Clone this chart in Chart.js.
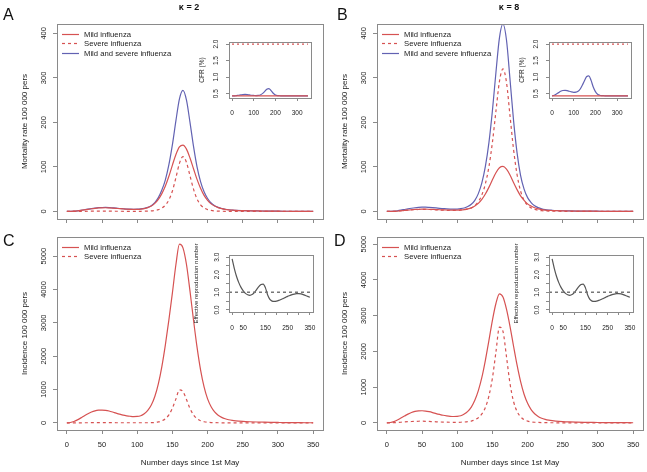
<!DOCTYPE html>
<html>
<head>
<meta charset="utf-8">
<script src="https://cdn.jsdelivr.net/npm/chart.js@4/dist/chart.umd.min.js"></script>
<style>
  body { margin: 0; background: #fff; }
  #page { position: relative; width: 647px; height: 472px; overflow: hidden; background: #fff; }
  #page canvas { position: absolute; }
  .letter { position: absolute; font: 16px "Liberation Sans", Arial, sans-serif; line-height: 16px; color: #111; }
  .kappa { position: absolute; width: 60px; text-align: center; font: bold 9px "Liberation Sans", Arial, sans-serif; line-height: 9px; color: #111; }
</style>
</head>
<body>
<div id="page">
  <canvas id="mainA" width="330" height="232" style="left:0px;top:0px"></canvas>
  <canvas id="mainB" width="327" height="232" style="left:320px;top:0px"></canvas>
  <canvas id="mainC" width="330" height="240" style="left:0px;top:232px"></canvas>
  <canvas id="mainD" width="327" height="240" style="left:320px;top:232px"></canvas>
  <canvas id="insetA" width="125" height="86" style="left:190px;top:36px"></canvas>
  <canvas id="insetB" width="125" height="86" style="left:510px;top:36px"></canvas>
  <canvas id="insetC" width="132" height="110" style="left:185px;top:236px"></canvas>
  <canvas id="insetD" width="132" height="110" style="left:505px;top:236px"></canvas>
  <div class="letter" style="left:3px;top:7px">A</div>
  <div class="letter" style="left:337px;top:7px">B</div>
  <div class="letter" style="left:3px;top:233px">C</div>
  <div class="letter" style="left:334px;top:233px">D</div>
  <div class="kappa" style="left:159px;top:3px">κ = 2</div>
  <div class="kappa" style="left:479px;top:3px">κ = 8</div>
</div>
<script>
const FONT = '"Liberation Sans", Arial, Helvetica, sans-serif'
Chart.defaults.font.family = FONT
Chart.defaults.color = '#222'

const RED = 'rgb(214,82,82)'
const BLUE = 'rgb(98,98,178)'
const GREY = '#555'

// days since 1st May, shared by all main panels
const days = [0,5,10,15,20,25,30,35,40,45,50,55,60,65,70,75,80,85,90,95,
  100,105,110,115,120,125,130,135,140,145,150,155,160,165,170,175,180,185,190,195,
  200,205,210,215,220,225,230,235,240,250,260,270,280,290,300,310,320,330,340,350]

// C: incidence, kappa = 2
const incMildK2 = [0,10,40,90,150,215,275,325,360,380, 385,375,355,325,290,260,232,212,198,190,
  192,215,275,375,535,790,1170,1690,2340,3090, 3900,4750,5360,5250,4750,3950,3080,2270,1590,1080,
  720,485,330,230,165,122,94,75,62, 45,34,26,20,15,12,9,7,5,4,3]
const incSevereK2 = [0,0,1,1,2,3,4,5,5,6, 6,6,5,5,4,4,3,3,3,3,
  3,3,4,4,6,12,28,60,125,240, 440,720,990,940,700,430,240,125,65,33,
  17,9,5,3,2,1,1,1,0, 0,0,0,0,0,0,0,0,0,0,0]

// D: incidence, kappa = 8
const incMildK8 = [0,9,35,80,135,190,245,290,320,335, 338,330,312,288,260,235,212,195,183,178,
  182,200,245,320,440,630,900,1270,1750,2300, 2870,3340,3610,3520,3180,2700,2150,1620,1160,800,
  545,370,255,180,130,98,76,61,50, 36,27,21,16,13,10,8,6,5,4,3]
const incSevereK8 = [0,1,4,10,17,25,32,38,42,45, 46,44,40,35,30,25,21,18,16,15,
  15,17,22,32,50,85,145,250,430,750, 1250,1980,2680,2560,1850,1100,600,320,170,90,
  50,28,17,11,7,5,4,3,2, 1,1,1,0,0,0,0,0,0,0,0]

// A: mortality, kappa = 2
const mortMildK2 = [0,0.1,0.5,1.3,2.3,3.5,4.8,6,7,7.8, 8.2,8.3,8,7.5,6.9,6.2,5.6,5.1,4.8,4.6,
  4.7,5.2,6.3,8.5,12,18,27,40,57,79, 104,128,145,149,140,120,96,72,52,36,
  25,17,12,8.5,6.2,4.6,3.6,2.9,2.4, 1.8,1.4,1.1,0.9,0.7,0.5,0.4,0.3,0.25,0.2,0.15]
const mortSevereK2 = [0,0,0.1,0.1,0.2,0.3,0.4,0.5,0.55,0.6, 0.6,0.6,0.55,0.5,0.45,0.4,0.35,0.3,0.3,0.3,
  0.3,0.35,0.45,0.7,1.2,2.2,4,7.5,14,26, 46,76,108,123,110,80,50,28,15,8,
  4,2.2,1.2,0.7,0.4,0.3,0.2,0.2,0.1, 0.1,0.1,0,0,0,0,0,0,0,0,0]
const mortAllK2 = [0,0.1,0.6,1.4,2.5,3.8,5.2,6.5,7.6,8.4, 8.8,8.9,8.6,8,7.4,6.6,6,5.4,5.1,4.9,
  5,5.6,6.8,9.2,13,20,31,48,71,105, 150,204,253,272,250,200,146,100,67,44,
  29,19,13,9.2,6.6,4.9,3.8,3.1,2.5, 1.9,1.5,1.1,0.9,0.7,0.5,0.4,0.3,0.25,0.2,0.15]

// B: mortality, kappa = 8
const mortMildK8 = [0,0.1,0.3,0.8,1.5,2.3,3.1,3.8,4.4,4.8, 5,5,4.8,4.5,4.2,3.8,3.5,3.2,3,2.9,
  3,3.4,4.2,5.7,8,12,18,27,39,54, 71,87,98,101,95,82,65,49,35,25,
  17,12,8.2,5.8,4.2,3.1,2.4,2,1.6, 1.2,0.95,0.75,0.6,0.48,0.38,0.3,0.22,0.17,0.13,0.1]
const mortSevereK8 = [0,0.1,0.3,0.8,1.4,2.1,2.8,3.4,3.9,4.3, 4.5,4.5,4.3,4,3.6,3.2,2.9,2.6,2.4,2.3,
  2.4,2.8,3.6,5.2,8,13,22,37,62,100, 155,225,292,320,290,215,140,83,46,25,
  14,8,4.5,2.7,1.7,1.1,0.8,0.6,0.5, 0.3,0.2,0.15,0.1,0.1,0.1,0.05,0.05,0,0,0]
const mortAllK8 = [0,0.2,0.6,1.6,2.9,4.4,5.9,7.2,8.3,9.1, 9.5,9.5,9.1,8.5,7.8,7,6.4,5.8,5.4,5.2,
  5.4,6.2,7.8,10.9,16,25,40,64,101,154, 226,312,390,421,385,297,205,132,81,50,
  31,20,12.7,8.5,5.9,4.2,3.2,2.6,2.1, 1.5,1.15,0.9,0.7,0.58,0.48,0.35,0.27,0.17,0.13,0.1]

// insets
const insetDays = [0,10,20,30,40,50,60,70,80,90,100,110,120,130,140,150,160,170,
  180,190,200,210,220,230,240,250,260,270,280,290,300,310,320,330,340,350]
const flatDays = [0, 350]
const cfrMild = [0.43, 0.43]
const cfrSevere = [2.0, 2.0]
const cfrAllK2 = [0.43,0.43,0.44,0.45,0.46,0.47,0.475,0.47,0.46,0.45,0.445,0.44,0.445,0.46,0.5,0.56,0.63,0.65,
  0.59,0.51,0.46,0.44,0.435,0.43,0.43,0.43,0.43,0.43,0.43,0.43,0.43,0.43,0.43,0.43,0.43,0.43]
const cfrAllK8 = [0.43,0.45,0.49,0.53,0.57,0.595,0.6,0.59,0.57,0.55,0.54,0.545,0.57,0.64,0.76,0.9,1.02,1.04,
  0.9,0.7,0.56,0.48,0.45,0.44,0.435,0.43,0.43,0.43,0.43,0.43,0.43,0.43,0.43,0.43,0.43,0.43]
const reff = [2.9,2.35,1.9,1.55,1.28,1.08,0.94,0.86,0.83,0.87,0.98,1.15,1.32,1.44,1.47,1.25,0.85,0.6,
  0.5,0.48,0.5,0.54,0.59,0.65,0.71,0.77,0.82,0.87,0.9,0.92,0.93,0.91,0.87,0.82,0.77,0.72]
const refDays = [-14, 364]
const reffThreshold = [1, 1]

// tick labels
const dayTicks = [0,50,100,150,200,250,300,350]
const cfrDayTicks = [0,100,200,300]
const mortTicks = [0,100,200,300,400]
const incTicks = [0,1000,2000,3000,4000,5000]
const cfrTicks = [0.5,1.0,1.5,2.0]
const reffTicks = [0,0.5,1,1.5,2,2.5,3]
const reffDayLabels = [0,50,150,250,350]

function series(xs, ys) {
  return xs.map((x, i) => ({ x: x, y: ys[i] }))
}

const measureCtx = document.createElement('canvas').getContext('2d')
function textWidth(txt, size) {
  measureCtx.font = size + 'px ' + FONT
  return measureCtx.measureText(txt).width
}

// box round the plot region, as R draws it
const framePlugin = {
  id: 'frame',
  afterDatasetsDraw(chart) {
    const a = chart.chartArea
    const ctx = chart.ctx
    ctx.save()
    ctx.strokeStyle = '#8a8a8a'
    ctx.lineWidth = 1
    ctx.strokeRect(Math.round(a.left) + 0.5, Math.round(a.top) + 0.5,
      Math.round(a.right - a.left), Math.round(a.bottom - a.top))
    ctx.restore()
  }
}

// R style legend inside the top left corner
const legendPlugin = {
  id: 'rLegend',
  afterDatasetsDraw(chart, args, opts) {
    if (!opts.show) return
    const a = chart.chartArea
    const ctx = chart.ctx
    chart.data.datasets.filter(d => d.label).forEach((d, i) => {
      const y = Math.round(a.top + opts.top + i * opts.step) + 0.5
      ctx.save()
      ctx.strokeStyle = d.borderColor
      ctx.lineWidth = 1.2
      ctx.setLineDash(d.borderDash || [])
      ctx.beginPath()
      ctx.moveTo(a.left + opts.x0, y)
      ctx.lineTo(a.left + opts.x1, y)
      ctx.stroke()
      ctx.setLineDash([])
      ctx.fillStyle = '#222'
      ctx.font = opts.size + 'px ' + FONT
      ctx.textBaseline = 'middle'
      ctx.fillText(d.label, a.left + opts.textX, y)
      ctx.restore()
    })
  }
}

function buildChart(id, o) {
  const yLabels = o.yTicks.map(o.yFmt).filter(t => t !== '')
  const widest = Math.max(...yLabels.map(t => textWidth(t, o.yFont)))
  const yPad = o.yLabelGap - o.tickLen - widest / 2
  const zeroPad = s => { s.paddingLeft = 0; s.paddingRight = 0; s.paddingTop = 0; s.paddingBottom = 0 }
  return new Chart(document.getElementById(id), {
    type: 'line',
    data: { datasets: o.datasets },
    options: {
      responsive: false,
      animation: false,
      devicePixelRatio: 1,
      layout: { padding: { left: 0, top: o.padTop, right: o.padRight, bottom: 0 } },
      elements: {
        point: { radius: 0 },
        line: { borderWidth: 1.2, cubicInterpolationMode: 'monotone', fill: false }
      },
      plugins: {
        legend: { display: false },
        tooltip: { enabled: false },
        rLegend: o.legend || { show: false }
      },
      scales: {
        x: {
          type: 'linear',
          min: -14,
          max: 364,
          afterBuildTicks: s => { s.ticks = o.xTicks.map(v => ({ value: v })) },
          afterFit: s => { s.height = o.xHeight; zeroPad(s) },
          grid: { drawOnChartArea: false, drawTicks: true, tickLength: o.tickLen, color: '#8a8a8a' },
          border: { display: false },
          ticks: {
            display: o.xShow,
            autoSkip: false,
            maxRotation: 0,
            padding: o.xLabelPad || 0,
            font: { size: o.xFont || 7 },
            color: '#222',
            callback: v => o.xFmt ? o.xFmt(v) : String(v)
          },
          title: {
            display: !!o.xTitle,
            text: o.xTitle || '',
            font: { size: 8 },
            color: '#222',
            padding: { top: 0, bottom: 4.2 }
          }
        },
        y: {
          type: 'linear',
          min: o.yMin,
          max: o.yMax,
          afterBuildTicks: s => { s.ticks = o.yTicks.map(v => ({ value: v })) },
          afterFit: s => { s.width = o.yWidth; zeroPad(s) },
          grid: { drawOnChartArea: false, drawTicks: true, tickLength: o.tickLen, color: '#8a8a8a' },
          border: { display: false },
          ticks: {
            autoSkip: false,
            minRotation: 90,
            maxRotation: 90,
            crossAlign: 'center',
            padding: yPad,
            font: { size: o.yFont },
            color: '#222',
            callback: v => o.yFmt(v)
          },
          title: {
            display: true,
            text: o.yTitle,
            font: { size: o.yTitleFont },
            color: '#222',
            padding: { top: o.yTitleX - o.yTitleFont * 0.6, bottom: 0 }
          }
        }
      }
    },
    plugins: [framePlugin, legendPlugin]
  })
}

function line(label, xs, ys, color, dash, width) {
  const d = { data: series(xs, ys), borderColor: color, borderWidth: width || 1.2 }
  if (label) d.label = label
  if (dash) d.borderDash = dash
  return d
}

const mainLegend = { show: true, top: 10, step: 9.4, x0: 5, x1: 22, textX: 27, size: 7.7 }

function mainPanel(id, datasets, yTicks, yMin, yMax, yTitle, bottomRow) {
  buildChart(id, {
    datasets: datasets,
    padTop: bottomRow ? 5 : 24,
    padRight: id === 'mainA' || id === 'mainC' ? 7 : 4,
    tickLen: 4,
    xTicks: dayTicks,
    xShow: bottomRow,
    xFont: 7.5,
    xLabelPad: 6.5,
    xHeight: bottomRow ? 42 : 13,
    xTitle: bottomRow ? 'Number days since 1st May' : '',
    yTicks: yTicks,
    yMin: yMin,
    yMax: yMax,
    yFmt: v => String(v),
    yFont: 7.5,
    yWidth: 57,
    yLabelGap: 13,
    yTitle: yTitle,
    yTitleFont: 8,
    yTitleX: 25,
    legend: mainLegend
  })
}

mainPanel('mainA', [
  line('Mild influenza', days, mortMildK2, RED),
  line('Severe influenza', days, mortSevereK2, RED, [3, 3]),
  line('Mild and severe influenza', days, mortAllK2, BLUE)
], mortTicks, -17, 421, 'Mortality rate 100 000 pers', false)

mainPanel('mainB', [
  line('Mild influenza', days, mortMildK8, RED),
  line('Severe influenza', days, mortSevereK8, RED, [3, 3]),
  line('Mild and severe influenza', days, mortAllK8, BLUE)
], mortTicks, -17, 421, 'Mortality rate 100 000 pers', false)

mainPanel('mainC', [
  line('Mild influenza', days, incMildK2, RED),
  line('Severe influenza', days, incSevereK2, RED, [3, 3])
], incTicks, -214, 5575, 'Incidence 100 000 pers', true)

mainPanel('mainD', [
  line('Mild influenza', days, incMildK8, RED),
  line('Severe influenza', days, incSevereK8, RED, [3, 3])
], incTicks, -200, 5200, 'Incidence 100 000 pers', true)

function cfrInset(id, allSeries) {
  buildChart(id, {
    datasets: [
      line(null, flatDays, cfrSevere, RED, [2, 3]),
      line(null, flatDays, cfrMild, RED),
      line(null, insetDays, allSeries, BLUE)
    ],
    padTop: 6,
    padRight: 4,
    tickLen: 3,
    xTicks: cfrDayTicks,
    xShow: true,
    xFont: 6.5,
    xLabelPad: 8.1,
    xHeight: 24,
    yTicks: cfrTicks,
    yMin: 0.367,
    yMax: 2.063,
    yFmt: v => v.toFixed(1),
    yFont: 6.5,
    yWidth: 39,
    yLabelGap: 13,
    yTitle: 'CFR (%)',
    yTitleFont: 6.5,
    yTitleX: 12
  })
}

function reffInset(id) {
  buildChart(id, {
    datasets: [
      line(null, refDays, reffThreshold, '#777', [3, 3], 1.5),
      line(null, insetDays, reff, GREY)
    ],
    padTop: 19,
    padRight: 4,
    tickLen: 3,
    xTicks: dayTicks,
    xShow: true,
    xFont: 6.5,
    xLabelPad: 9.1,
    xHeight: 34,
    xFmt: v => reffDayLabels.includes(v) ? String(v) : '',
    yTicks: reffTicks,
    yMin: -0.12,
    yMax: 3.12,
    yFmt: v => Number.isInteger(v) ? v.toFixed(1) : '',
    yFont: 6.5,
    yWidth: 44,
    yLabelGap: 12,
    yTitle: 'Effective reproduction number',
    yTitleFont: 6,
    yTitleX: 11
  })
}

cfrInset('insetA', cfrAllK2)
cfrInset('insetB', cfrAllK8)
reffInset('insetC')
reffInset('insetD')
</script>
</body>
</html>
